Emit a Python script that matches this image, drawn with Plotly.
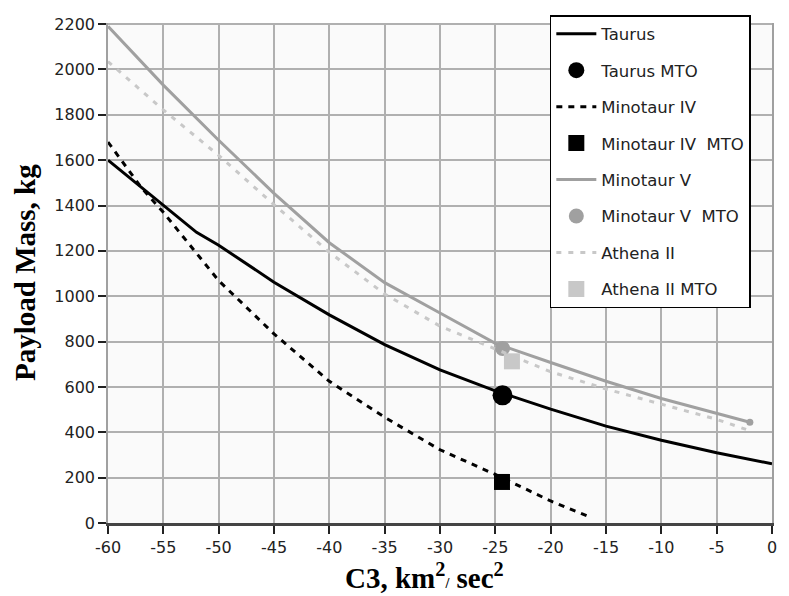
import plotly.graph_objects as go

# ---- data ----
taurus_c3 = [-60, -55, -52, -50, -45, -40, -35, -30, -25, -20, -15, -10, -5, 0]
taurus_kg = [1600, 1400, 1282, 1225, 1062, 918, 787, 675, 583, 502, 427, 365, 310, 261]

minotaur4_c3 = [-60, -57, -55, -50, -45, -40, -35, -30, -25, -20, -16.5]
minotaur4_kg = [1680, 1480, 1370, 1069, 834, 625, 466, 323, 214, 97, 27]

minotaur5_c3 = [-60, -55, -50, -45, -40, -35, -30, -25, -20, -15, -10, -5, -2]
minotaur5_kg = [2190, 1931, 1688, 1454, 1236, 1060, 926, 792, 708, 625, 549, 482, 444]

athena2_c3 = [-60, -55, -50, -45, -40, -35, -30, -25, -20, -15, -10, -5, -2]
athena2_kg = [2035, 1822, 1621, 1404, 1194, 1010, 868, 767, 667, 591, 524, 457, 407]

mto_names = ["Taurus MTO", "Minotaur IV  MTO", "Minotaur V  MTO", "Athena II MTO"]
mto_c3 = [-24.35, -24.4, -24.35, -23.5]
mto_kg = [563, 181, 770, 713]

x_tickvals = [-60, -55, -50, -45, -40, -35, -30, -25, -20, -15, -10, -5, 0]
x_ticktext = ["-60", "-55", "-50", "-45", "-40", "-35", "-30", "-25", "-20", "-15", "-10", "-5", "0"]
y_tickvals = [0, 200, 400, 600, 800, 1000, 1200, 1400, 1600, 1800, 2000, 2200]

# ---- styles ----
BLACK = "#000000"
GRAY = "#a0a0a0"
LIGHT = "#c8c8c8"

fig = go.Figure()

fig.add_trace(go.Scatter(x=taurus_c3, y=taurus_kg, name="Taurus", mode="lines",
                         line=dict(color=BLACK, width=3), legendgroup="a"))
fig.add_trace(go.Scatter(x=[mto_c3[0]], y=[mto_kg[0]], name=mto_names[0], mode="markers",
                         marker=dict(color=BLACK, size=20, symbol="circle"), legendgroup="b"))
fig.add_trace(go.Scatter(x=minotaur4_c3, y=minotaur4_kg, name="Minotaur IV", mode="lines",
                         line=dict(color=BLACK, width=3, dash="6px,6px"), legendgroup="c"))
fig.add_trace(go.Scatter(x=[mto_c3[1]], y=[mto_kg[1]], name=mto_names[1], mode="markers",
                         marker=dict(color=BLACK, size=16, symbol="square"), legendgroup="d"))
fig.add_trace(go.Scatter(x=minotaur5_c3, y=minotaur5_kg, name="Minotaur V", mode="lines",
                         line=dict(color=GRAY, width=3), legendgroup="e"))
fig.add_trace(go.Scatter(x=minotaur5_c3[-1:], y=minotaur5_kg[-1:], mode="markers",
                         marker=dict(color=GRAY, size=7), showlegend=False, hoverinfo="skip"))
fig.add_trace(go.Scatter(x=[mto_c3[2]], y=[mto_kg[2]], name=mto_names[2], mode="markers",
                         marker=dict(color=GRAY, size=15, symbol="circle"), legendgroup="f"))
fig.add_trace(go.Scatter(x=athena2_c3, y=athena2_kg, name="Athena II", mode="lines",
                         line=dict(color=LIGHT, width=3, dash="5px,7px"), legendgroup="g"))
fig.add_trace(go.Scatter(x=[mto_c3[3]], y=[mto_kg[3]], name=mto_names[3], mode="markers",
                         marker=dict(color=LIGHT, size=16, symbol="square"), legendgroup="h"))

tick_font = dict(family="DejaVu Sans", size=16, color="#222222")
title_font = dict(family="Liberation Serif", size=29, color="#000000")

fig.update_layout(
    width=789, height=596,
    margin=dict(l=107.5, r=15, t=23, b=73),
    paper_bgcolor="white",
    plot_bgcolor="#fafafa",
    showlegend=True,
    legend=dict(
        x=0.6654, y=1.016, xanchor="left", yanchor="top",
        bgcolor="white", bordercolor="black", borderwidth=1.5,
        font=dict(family="DejaVu Sans", size=16.5, color="#222222"),
        traceorder="grouped", tracegroupgap=12,
        itemwidth=40,
    ),
    xaxis=dict(
        range=[-60, 0], tickvals=x_tickvals, ticktext=x_ticktext,
        tickfont=tick_font, ticks="outside", ticklen=8, tickwidth=2, tickcolor="#222222",
        showgrid=True, gridcolor="#b0b0b0", gridwidth=1.5,
        showline=True, linecolor="#444444", linewidth=2.5,
        zeroline=False,
    ),
    yaxis=dict(
        range=[0, 2205], tickvals=y_tickvals,
        tickfont=tick_font, ticks="outside", ticklen=8, tickwidth=1.5, tickcolor="#222222",
        showgrid=True, gridcolor="#b0b0b0", gridwidth=1.5,
        showline=True, linecolor="#a0a0a0", linewidth=1.5, mirror=True,
        zeroline=False,
    ),
    annotations=[
        dict(text="<b>Payload Mass, kg</b>", xref="paper", yref="paper",
             x=-0.125, y=0.5, xanchor="center", yanchor="middle",
             textangle=-90, showarrow=False, font=title_font),
        dict(text="<b>C3, km<sup>2</sup><span style='font-size:14px'>/</span> sec<sup>2</sup></b>",
             xref="paper", yref="paper", x=0.476, y=-0.145,
             xanchor="center", yanchor="bottom", showarrow=False, font=title_font),
    ],
)

fig.write_html("out.html", config={"displayModeBar": False},
               post_script="document.body.style.margin='0';")
